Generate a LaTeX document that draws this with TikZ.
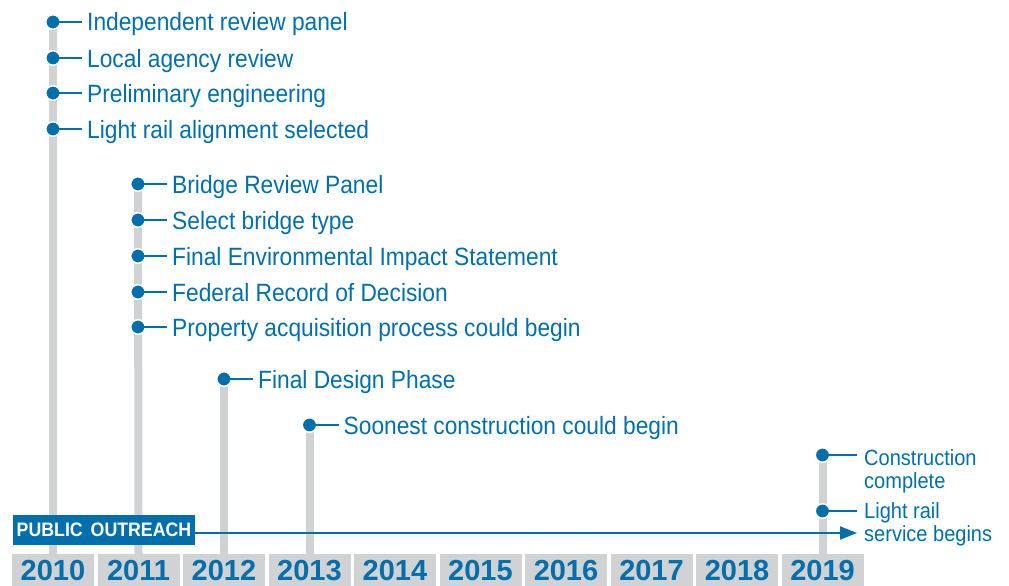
\documentclass[tikz,border=0pt]{standalone}
\usepackage{fontspec}
\setmainfont{Liberation Sans}[FakeStretch=0.91]
\newfontfamily\yearfont{Liberation Sans}[FakeStretch=1.0]
\usetikzlibrary{arrows.meta,calc,backgrounds}
\definecolor{tblue}{HTML}{006FAC}
\definecolor{tgray}{HTML}{D1D2D4}
\begin{document}
\begin{tikzpicture}[x=1pt,y=-1pt,
  yearline/.style={draw=tgray,line width=8pt},
  yearbox/.style={fill=tgray,minimum width=82pt,minimum height=32pt,inner sep=0pt},
  yeartext/.style={text=tblue,font=\yearfont\bfseries\fontsize{29}{29}\selectfont,inner sep=0pt},
  dot/.style={circle,fill=tblue,draw=white,line width=1.5pt,minimum size=14.5pt,inner sep=0pt},
  lab/.style={anchor=west,text=tblue,font=\fontsize{25}{28}\selectfont,inner xsep=5pt,inner ysep=0pt,text height=18pt,text depth=0pt},
  labtwo/.style={anchor=north west,text=tblue,align=left,font=\fontsize{22}{23}\selectfont,inner xsep=7pt,inner ysep=0pt},
  tick/.style={draw=tblue,line width=2pt},
  outreach/.style={fill=tblue,text=white,font=\bfseries\fontsize{19.5}{19.5}\selectfont,minimum width=182pt,minimum height=30pt,inner sep=0pt},
  arrowline/.style={draw=tblue,line width=2pt,-{Triangle[length=17pt,width=13pt]}}]
\useasboundingbox (0,0) rectangle (1009,586);

% year boxes
\foreach \i in {0,...,9}{
  \pgfmathsetmacro{\xx}{53+85.5*\i}
  \pgfmathtruncatemacro{\yr}{2010+\i}
  \node[yearbox] (b\yr) at (\xx,570) {};
  \node[yeartext,anchor=base] (t\yr) at ([yshift=6pt]b\yr.south) {\yr};
}

% public outreach
\node[outreach] (po) at (104,530) {PUBLIC\kern3pt\ OUTREACH};
\coordinate (tip) at (857,533);
\draw[arrowline] (po.east |- tip) -- (tip);

% 2010
\foreach \n/\y/\t in {a1/22/Independent review panel, a2/58/Local agency review, a3/93/Preliminary engineering, a4/129/Light rail alignment selected}{
  \node[dot] (\n) at (53,\y) {};
  \node[lab] (l\n) at ($(\n)+(29,0)$) {\t};
  \draw[tick] (\n.center) -- (l\n.west);
}
% 2011
\foreach \n/\y/\t in {b1/184/Bridge Review Panel, b2/220/Select bridge type, b3/256/Final Environmental Impact Statement, b4/292/Federal Record of Decision, b5/327/Property acquisition process could begin}{
  \node[dot] (\n) at (138,\y) {};
  \node[lab] (l\n) at ($(\n)+(29,0)$) {\t};
  \draw[tick] (\n.center) -- (l\n.west);
}
% 2012
\node[dot] (c1) at (224,379) {};
\node[lab] (lc1) at ($(c1)+(29,0)$) {Final Design Phase};
\draw[tick] (c1.center) -- (lc1.west);
% 2013
\node[dot] (d1) at (309.5,425) {};
\node[lab] (ld1) at ($(d1)+(29,0)$) {Soonest construction could begin};
\draw[tick] (d1.center) -- (ld1.west);
% 2019
\node[dot] (e1) at (822.5,455) {};
\node[labtwo] (le1) at (857,449) {Construction\\complete};
\draw[tick] (e1.center) -- (e1 -| le1.west);
\node[dot] (e2) at (822.5,511) {};
\node[labtwo] (le2) at (857,502) {Light rail\\service begins};
\draw[tick] (e2.center) -- (e2 -| le2.west);

\begin{scope}[on background layer]
  \draw[yearline] (a1.center) -- (b2010.north);
  \draw[yearline] (b1.center) -- (b2011.north);
  \draw[yearline] (c1.center) -- (b2012.north);
  \draw[yearline] (d1.center) -- (b2013.north);
  \draw[yearline] (e1.center) -- (b2019.north);
\end{scope}
\end{tikzpicture}
\end{document}
